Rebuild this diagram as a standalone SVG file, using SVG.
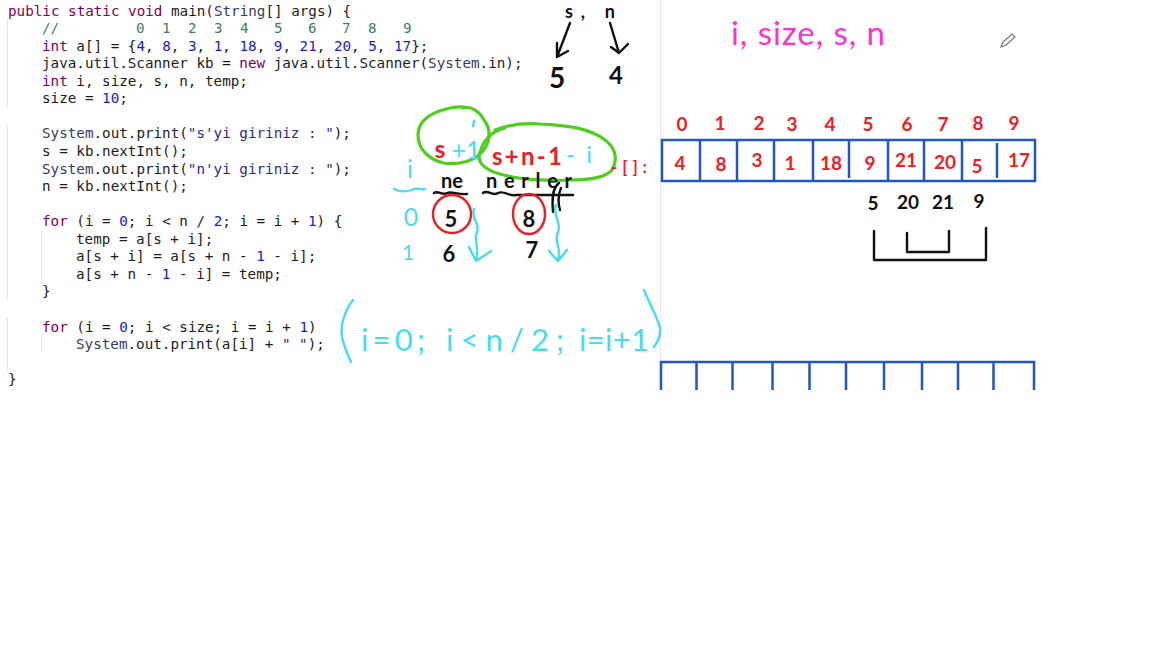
<svg xmlns="http://www.w3.org/2000/svg" width="1167" height="648" viewBox="0 0 1167 648">
<style>
.c{font-family:"DejaVu Sans Mono","Liberation Mono",monospace;font-size:14.25px;fill:#1c1c1c;white-space:pre}
.k{fill:#7f0055}.n{fill:#1a1ad0}.g{fill:#3f7f5f}.t{fill:#3a3a66}.s{fill:#2a2a90}
.h{font-family:"Lato","Noto Sans",sans-serif;text-anchor:middle}
.r{fill:#f01c24;font-size:19px;font-weight:700}
.b{fill:#111;font-size:19px;font-weight:700}
.y{fill:#48dcec}
.st{fill:none;stroke-linecap:round;stroke-linejoin:round}
.blue{stroke:#2156c8;stroke-width:2.5;fill:none}
.green{stroke:#4fce1e;stroke-width:3.2}
.cy{stroke:#48dcec;stroke-width:2.4}
.bk{stroke:#111;stroke-width:2.4}
.rd{stroke:#f01c24;stroke-width:2.4}
.guide{stroke:#e6e6e6;stroke-width:1;fill:none}
</style>
<rect width="1167" height="648" fill="#fff"/>
<g id="guides">
<path class="guide" d="M660.500 0V390M7.500 19V108M7.500 125V300M7.500 318V370M41.500 230V283M41.500 335V353"/>
</g>
<g id="code">
<text class="c" x="8" y="15.500"><tspan class="k">public static void</tspan> main(<tspan class="t">String</tspan>[] args) {</text>
<text class="c g" y="33"><tspan x="42">//</tspan><tspan x="136">0</tspan><tspan x="162">1</tspan><tspan x="188">2</tspan><tspan x="214">3</tspan><tspan x="240">4</tspan><tspan x="274">5</tspan><tspan x="308">6</tspan><tspan x="342">7</tspan><tspan x="368">8</tspan><tspan x="403">9</tspan></text>
<text class="c" x="42" y="50.600"><tspan class="k">int</tspan> a[] = {<tspan class="n">4</tspan>, <tspan class="n">8</tspan>, <tspan class="n">3</tspan>, <tspan class="n">1</tspan>, <tspan class="n">18</tspan>, <tspan class="n">9</tspan>, <tspan class="n">21</tspan>, <tspan class="n">20</tspan>, <tspan class="n">5</tspan>, <tspan class="n">17</tspan>};</text>
<text class="c" x="42" y="68.200">java.util.Scanner kb = <tspan class="k">new</tspan> java.util.Scanner(<tspan class="t">System</tspan>.in);</text>
<text class="c" x="42" y="85.700"><tspan class="k">int</tspan> i, size, s, n, temp;</text>
<text class="c" x="42" y="103.300">size = <tspan class="n">10</tspan>;</text>
<text class="c" x="42" y="138.400"><tspan class="t">System</tspan>.out.print(<tspan class="s">"s'yi giriniz : "</tspan>);</text>
<text class="c" x="42" y="156">s = kb.nextInt();</text>
<text class="c" x="42" y="173.500"><tspan class="t">System</tspan>.out.print(<tspan class="s">"n'yi giriniz : "</tspan>);</text>
<text class="c" x="42" y="191">n = kb.nextInt();</text>
<text class="c" x="42" y="226.200"><tspan class="k">for</tspan> (i = <tspan class="n">0</tspan>; i &lt; n / <tspan class="n">2</tspan>; i = i + <tspan class="n">1</tspan>) {</text>
<text class="c" x="76" y="243.800">temp = a[s + i];</text>
<text class="c" x="76" y="261.300">a[s + i] = a[s + n - <tspan class="n">1</tspan> - i];</text>
<text class="c" x="76" y="278.900">a[s + n - <tspan class="n">1</tspan> - i] = temp;</text>
<text class="c" x="42" y="296.400">}</text>
<text class="c" x="42" y="331.500"><tspan class="k">for</tspan> (i = <tspan class="n">0</tspan>; i &lt; size; i = i + <tspan class="n">1</tspan>)</text>
<text class="c" x="76" y="349.100"><tspan class="t">System</tspan>.out.print(a[i] + <tspan class="s">" "</tspan>);</text>
<text class="c" x="8" y="384.200">}</text>
</g>
<g id="top-note">
<text class="h b" x="590" y="18" style="font-size:18px" textLength="50">s, n</text>
<path class="st bk" d="M570 23L557 57M557 43L557 57L568 51M610 23L619 53M611 47L619 53L628 44"/>
<text class="h b" x="557" y="88" style="font-size:28px">5</text>
<text class="h b" x="616" y="84" style="font-size:24px">4</text>
</g>
<g id="variables">
<text class="h" x="808" y="45" style="font-size:33px;fill:#ff33cc" textLength="154" lengthAdjust="spacing">i, size, s, n</text>
</g>
<g id="pencil">
<path d="M1001 47L1003 42L1012 34L1015 37L1006 45Z" fill="#fff" stroke="#777" stroke-width="1.200"/>
</g>
<g id="array">
<path class="blue" d="M662 140H1035V181H662ZM700 140V181M737 140V181M774 140V180M813 140V180M849 140V178M888 140V181M924 140V181M962 140V181M997 143V178"/>
<g class="h r">
<text x="682" y="131">0</text><text x="720" y="130">1</text><text x="759" y="130">2</text><text x="792" y="131">3</text><text x="830" y="131">4</text><text x="868" y="131">5</text><text x="907" y="131">6</text><text x="943" y="131">7</text><text x="978" y="130">8</text><text x="1014" y="130">9</text>
<text x="680" y="170">4</text><text x="721" y="171">8</text><text x="757" y="167">3</text><text x="790" y="170">1</text><text x="831" y="170">18</text><text x="870" y="170">9</text><text x="906" y="167">21</text><text x="945" y="169">20</text><text x="977" y="173">5</text><text x="1019" y="167">17</text>
</g>
</g>
<g id="reversed">
<g class="h b">
<text x="873" y="210">5</text><text x="908" y="209">20</text><text x="943" y="209">21</text><text x="979" y="208">9</text>
</g>
<path class="st bk" d="M874 231V260H986V228M907 233V252H949V231"/>
</g>
<g id="empty-array">
<path class="blue" d="M661 390V362H1034V390M696.500 362V390M732.500 362V390M772.500 362V390M809.500 362V390M846 362V390M884 362V390M922 362V390M958 362V390M993.500 362V390"/>
</g>
<g id="formula-left">
<path class="st green" d="M463 108C470 105 480 112 484 120C492 130 490 143 482 152C474 162 456 165 444 163C430 160 418 150 418 135C418 120 432 112 450 108C457 107 467 106 463 108Z"/>
<path class="st green" d="M495 130C510 124 525 123 540 124C565 125 590 128 605 140C616 148 618 160 612 170C605 178 590 180 570 180C550 181 520 180 500 174C485 170 476 162 480 152C484 140 490 132 505 128"/>
<text class="h" x="440" y="158" style="font-size:25px;fill:#f01c24;font-weight:700">s</text>
<text class="h y" x="466" y="159" style="font-size:25px">+1</text>
<path class="st cy" d="M474 121L473 126"/>
<text class="h" x="527" y="165" style="font-size:24px;fill:#f01c24;font-weight:700" textLength="70">s+n-1</text>
<text class="h y" x="579" y="163" style="font-size:24px" textLength="26">-i</text>
<text class="h" x="629" y="173" style="font-size:17px;fill:#f01c24;font-weight:700" textLength="36">-[]:</text>
<text class="h y" x="410" y="178" style="font-size:25px">i</text>
<path class="st cy" d="M394 189C400 192 408 192 414 189C418 188 422 190 425 189"/>
<text class="h b" x="452" y="188" style="font-size:20px">ne</text>
<text class="h b" x="529" y="188" style="font-size:20px" textLength="86">nerler</text>
<path class="st bk" d="M434 193C438 190 442 196 447 193C452 191 458 195 467 194M483 193C488 189 492 197 498 193C504 190 510 197 516 195H573M559 183C552 188 552 200 553 212M561 188C558 195 558 203 560 210"/>
<ellipse class="st rd" cx="452" cy="214" rx="19" ry="19"/>
<ellipse class="st rd" cx="529" cy="214" rx="16" ry="20"/>
<g class="h b"><text x="451" y="227" style="font-size:22px">5</text><text x="529" y="227" style="font-size:22px">8</text><text x="449" y="262" style="font-size:22px">6</text><text x="532" y="258" style="font-size:22px">7</text></g>
<text class="h y" x="411" y="226" style="font-size:25px">0</text>
<text class="h y" x="408" y="260" style="font-size:21px">1</text>
<path class="st cy" d="M474 209C470 218 481 224 477 232C473 240 480 248 476 260M469 247L476 261L491 251M556 205C552 215 562 222 558 232C553 240 562 248 558 260M549 251L558 261L567 250"/>
</g>
<g id="for-header">
<path class="st cy" d="M353 300C345 310 340 325 342 337C344 347 348 355 351 362M644 290C650 305 658 318 660 328C661 337 657 343 654 347"/>
<text class="h y" x="393" y="351" style="font-size:31px" textLength="64">i=0;</text>
<text class="h y" x="505" y="351" style="font-size:31px" textLength="118">i&lt;n/2;</text>
<text class="h y" x="614" y="351" style="font-size:31px" textLength="70">i=i+1</text>
</g>
</svg>
